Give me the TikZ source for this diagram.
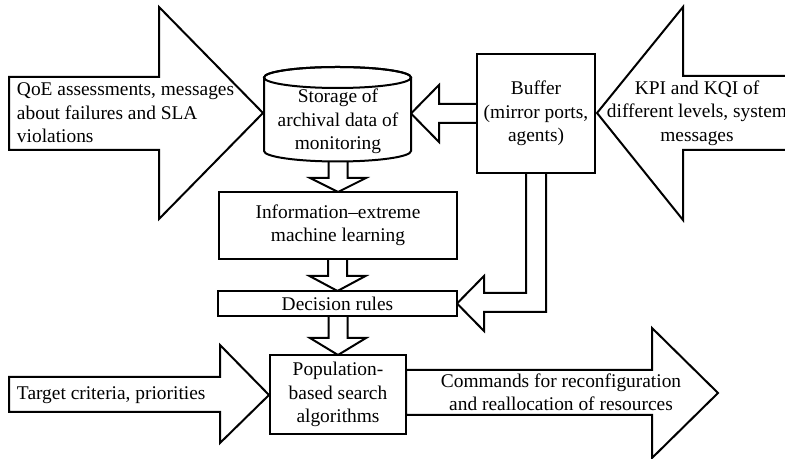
\documentclass[tikz,border=0pt]{standalone}
\usepackage{fontspec}
\setmainfont{Liberation Serif}
\usepackage{tikz}
\usetikzlibrary{backgrounds}

\begin{document}
\begin{tikzpicture}[x=0.5pt,y=0.5pt,line width=1pt,line join=miter,
  font=\fontsize{9.7}{11.7}\selectfont,
  box/.style={draw,fill=white,inner sep=1pt,outer sep=0pt,align=center},
  blockarr/.style={draw,fill=white,line width=1pt,line join=miter},
  lbl/.style={inner sep=0pt,align=center}]

\useasboundingbox (0,0) rectangle (785,459);

% storage cylinder
\draw [fill=white] (264,381.5) -- (264,308) arc [start angle=180,end angle=360,x radius=36.75pt,y radius=5.25pt]
  -- (411,381.5) arc [start angle=0,end angle=180,x radius=36.75pt,y radius=5.25pt] -- cycle;
\draw (337.5,381.5) ellipse [x radius=36.75pt,y radius=5.25pt];
\node [lbl] (sto) at (338,337.5) {Storage of\\archival data of\\monitoring};

% blocks
\node [box,minimum width=59pt,minimum height=59.5pt] (buf) at (536,345.5) {Buffer\\(mirror ports,\\agents)};
\node [box,minimum width=119pt,minimum height=33.5pt] (info) at (338,233.5) {Information--extreme\\machine learning};
\node [box,minimum width=119.5pt,minimum height=12.5pt,inner sep=0pt] (dec) at (337.5,155.5) {Decision rules};
\node [box,minimum width=68pt,minimum height=39.5pt] (pop) at (338,64.5) {Population-\\based search\\algorithms};

% texts of the input and output arrows
\node [lbl,anchor=west,align=left] (qoe) at (16,346) {QoE assessments, messages\\about failures and SLA\\violations};
\node [lbl] (kpi) at (697,346) {KPI and KQI of\\different levels, system\\messages};
\node [lbl,anchor=west] (target) at (16,64) {Target criteria, priorities};
\node [lbl] (cmd) at (561,66.5) {Commands for reconfiguration\\and reallocation of resources};

\begin{scope}[on background layer]

% big arrows
\draw [blockarr] (9,382) -- (159,382) -- (159,452) -- (263,346) -- (159,240) -- (159,309) -- (9,309) -- cycle;
\draw [blockarr] (787,383) -- (683,383) -- (683,452) -- (597,346) -- (683,239) -- (683,309) -- (787,309) -- cycle;
\draw [blockarr] (9,82) -- (220,82) -- (220,114) -- (269,64) -- (220,16) -- (220,47) -- (9,47) -- cycle;
\draw [blockarr] (406,89) -- (652,89) -- (652,131) -- (718,66) -- (652,1) -- (652,44) -- (406,44) -- cycle;

% small arrows between blocks
\draw [blockarr] (buf.west) ++(0,9.5) -- ++(-38,0) -- ++(0,19) -- ++(-28,-28.5) -- ++(28,-28.5) -- ++(0,19) -- ++(38,0) -- cycle;
\draw [blockarr] (info.north) -- ++(-28,14) -- ++(18.5,0) -- ++(0,27) -- ++(19,0) -- ++(0,-27) -- ++(18.5,0) -- cycle;
\draw [blockarr] (dec.north) -- ++(-28,15) -- ++(18.5,0) -- ++(0,17) -- ++(19,0) -- ++(0,-17) -- ++(18.5,0) -- cycle;
\draw [blockarr] (pop.north) -- ++(-28,17) -- ++(18.5,0) -- ++(0,22) -- ++(19,0) -- ++(0,-22) -- ++(18.5,0) -- cycle;
\draw [blockarr] (dec.east) -- ++(27,27.5) -- ++(0,-17) -- ++(42,0) -- ++(0,124) -- ++(20,0) -- ++(0,-143) -- ++(-62,0) -- ++(0,-19) -- cycle;

\end{scope}

\end{tikzpicture}
\end{document}
